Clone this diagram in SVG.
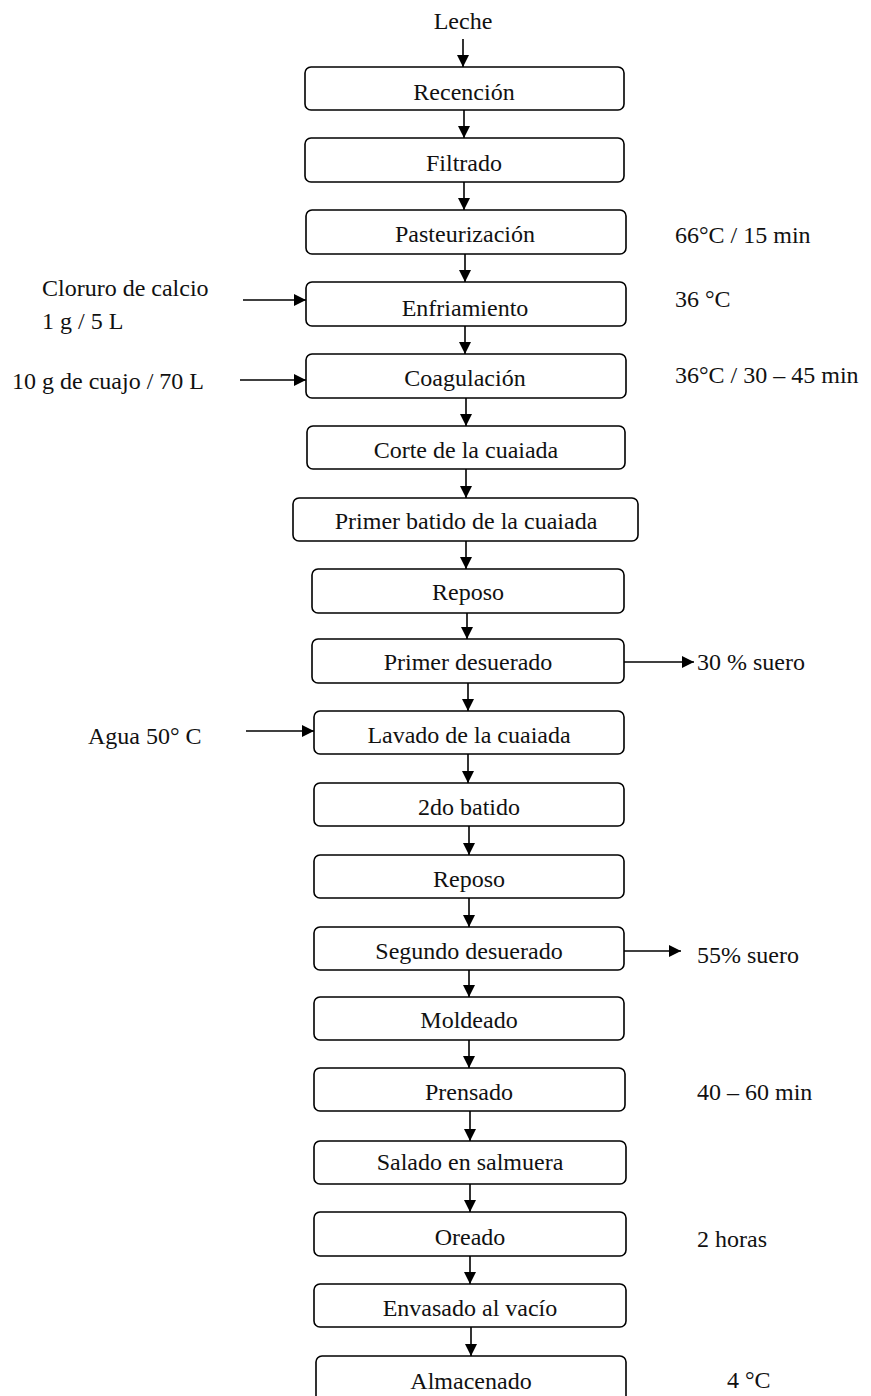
<svg xmlns="http://www.w3.org/2000/svg" width="871" height="1396" viewBox="0 0 871 1396">
<defs>
<marker id="ah" markerWidth="12" markerHeight="12" viewBox="0 0 12 12" refX="12" refY="6" orient="auto" markerUnits="userSpaceOnUse">
<path d="M0,0 L12,6 L0,12 Z" fill="#000"/>
</marker>
<style>
.box{fill:#fff;stroke:#000;stroke-width:1.6}
.t{font-family:"Liberation Serif","Times New Roman",serif;font-size:24px;fill:#111}
.c{text-anchor:middle}
.cn line{stroke:#000;stroke-width:1.6;marker-end:url(#ah)}
</style>
</defs>
<rect width="871" height="1396" fill="#fff"/>
<text class="t c" x="463" y="29">Leche</text>
<g id="n1"><rect class="box" x="305" y="67" width="319" height="43" rx="6"/><text class="t c" x="464" y="100">Recención</text></g>
<g id="n2"><rect class="box" x="305" y="138" width="319" height="44" rx="6"/><text class="t c" x="464" y="171">Filtrado</text></g>
<g id="n3"><rect class="box" x="306" y="210" width="320" height="44" rx="6"/><text class="t c" x="465" y="242">Pasteurización</text></g>
<g id="n4"><rect class="box" x="306" y="282" width="320" height="44" rx="6"/><text class="t c" x="465" y="316">Enfriamiento</text></g>
<g id="n5"><rect class="box" x="306" y="354" width="320" height="44" rx="6"/><text class="t c" x="465" y="386">Coagulación</text></g>
<g id="n6"><rect class="box" x="307" y="426" width="318" height="43" rx="6"/><text class="t c" x="466" y="458">Corte de la cuaiada</text></g>
<g id="n7"><rect class="box" x="293" y="498" width="345" height="43" rx="6"/><text class="t c" x="466" y="529">Primer batido de la cuaiada</text></g>
<g id="n8"><rect class="box" x="312" y="569" width="312" height="44" rx="6"/><text class="t c" x="468" y="600">Reposo</text></g>
<g id="n9"><rect class="box" x="312" y="639" width="312" height="44" rx="6"/><text class="t c" x="468" y="670">Primer desuerado</text></g>
<g id="n10"><rect class="box" x="314" y="711" width="310" height="43" rx="6"/><text class="t c" x="469" y="743">Lavado de la cuaiada</text></g>
<g id="n11"><rect class="box" x="314" y="783" width="310" height="43" rx="6"/><text class="t c" x="469" y="815">2do batido</text></g>
<g id="n12"><rect class="box" x="314" y="855" width="310" height="43" rx="6"/><text class="t c" x="469" y="887">Reposo</text></g>
<g id="n13"><rect class="box" x="314" y="927" width="310" height="43" rx="6"/><text class="t c" x="469" y="959">Segundo desuerado</text></g>
<g id="n14"><rect class="box" x="314" y="997" width="310" height="43" rx="6"/><text class="t c" x="469" y="1028">Moldeado</text></g>
<g id="n15"><rect class="box" x="314" y="1068" width="311" height="43" rx="6"/><text class="t c" x="469" y="1100">Prensado</text></g>
<g id="n16"><rect class="box" x="314" y="1141" width="312" height="43" rx="6"/><text class="t c" x="470" y="1170">Salado en salmuera</text></g>
<g id="n17"><rect class="box" x="314" y="1212" width="312" height="44" rx="6"/><text class="t c" x="470" y="1245">Oreado</text></g>
<g id="n18"><rect class="box" x="314" y="1284" width="312" height="43" rx="6"/><text class="t c" x="470" y="1316">Envasado al vacío</text></g>
<g id="n19"><rect class="box" x="316" y="1356" width="310" height="46" rx="6"/><text class="t c" x="471" y="1389">Almacenado</text></g>
<g id="side">
<text class="t" x="675" y="243">66°C / 15 min</text>
<text class="t" x="675" y="307">36 °C</text>
<text class="t" x="675" y="383">36°C / 30 – 45 min</text>
<text class="t" x="42" y="296">Cloruro de calcio</text>
<text class="t" x="42" y="329">1 g / 5 L</text>
<text class="t" x="12" y="389">10 g de cuajo / 70 L</text>
<text class="t" x="697" y="670">30 % suero</text>
<text class="t" x="88" y="744">Agua 50° C</text>
<text class="t" x="697" y="963">55% suero</text>
<text class="t" x="697" y="1100">40 – 60 min</text>
<text class="t" x="697" y="1247">2 horas</text>
<text class="t" x="727" y="1388">4 °C</text>
</g>
<g id="connectors" class="cn">
<line x1="463" y1="39" x2="463" y2="67"/>
<line x1="464" y1="110" x2="464" y2="138"/>
<line x1="464" y1="182" x2="464" y2="210"/>
<line x1="465" y1="254" x2="465" y2="282"/>
<line x1="465" y1="326" x2="465" y2="354"/>
<line x1="466" y1="398" x2="466" y2="426"/>
<line x1="466" y1="469" x2="466" y2="498"/>
<line x1="466" y1="541" x2="466" y2="569"/>
<line x1="467" y1="613" x2="467" y2="639"/>
<line x1="468" y1="683" x2="468" y2="711"/>
<line x1="468" y1="754" x2="468" y2="783"/>
<line x1="469" y1="826" x2="469" y2="855"/>
<line x1="469" y1="898" x2="469" y2="927"/>
<line x1="469" y1="970" x2="469" y2="997"/>
<line x1="469" y1="1040" x2="469" y2="1068"/>
<line x1="470" y1="1111" x2="470" y2="1141"/>
<line x1="470" y1="1184" x2="470" y2="1212"/>
<line x1="470" y1="1256" x2="470" y2="1284"/>
<line x1="471" y1="1327" x2="471" y2="1356"/>
<line x1="243" y1="300" x2="306" y2="300"/>
<line x1="240" y1="380" x2="306" y2="380"/>
<line x1="246" y1="731" x2="314" y2="731"/>
<line x1="624" y1="662" x2="694" y2="662"/>
<line x1="624" y1="951" x2="681" y2="951"/>
</g>
</svg>
